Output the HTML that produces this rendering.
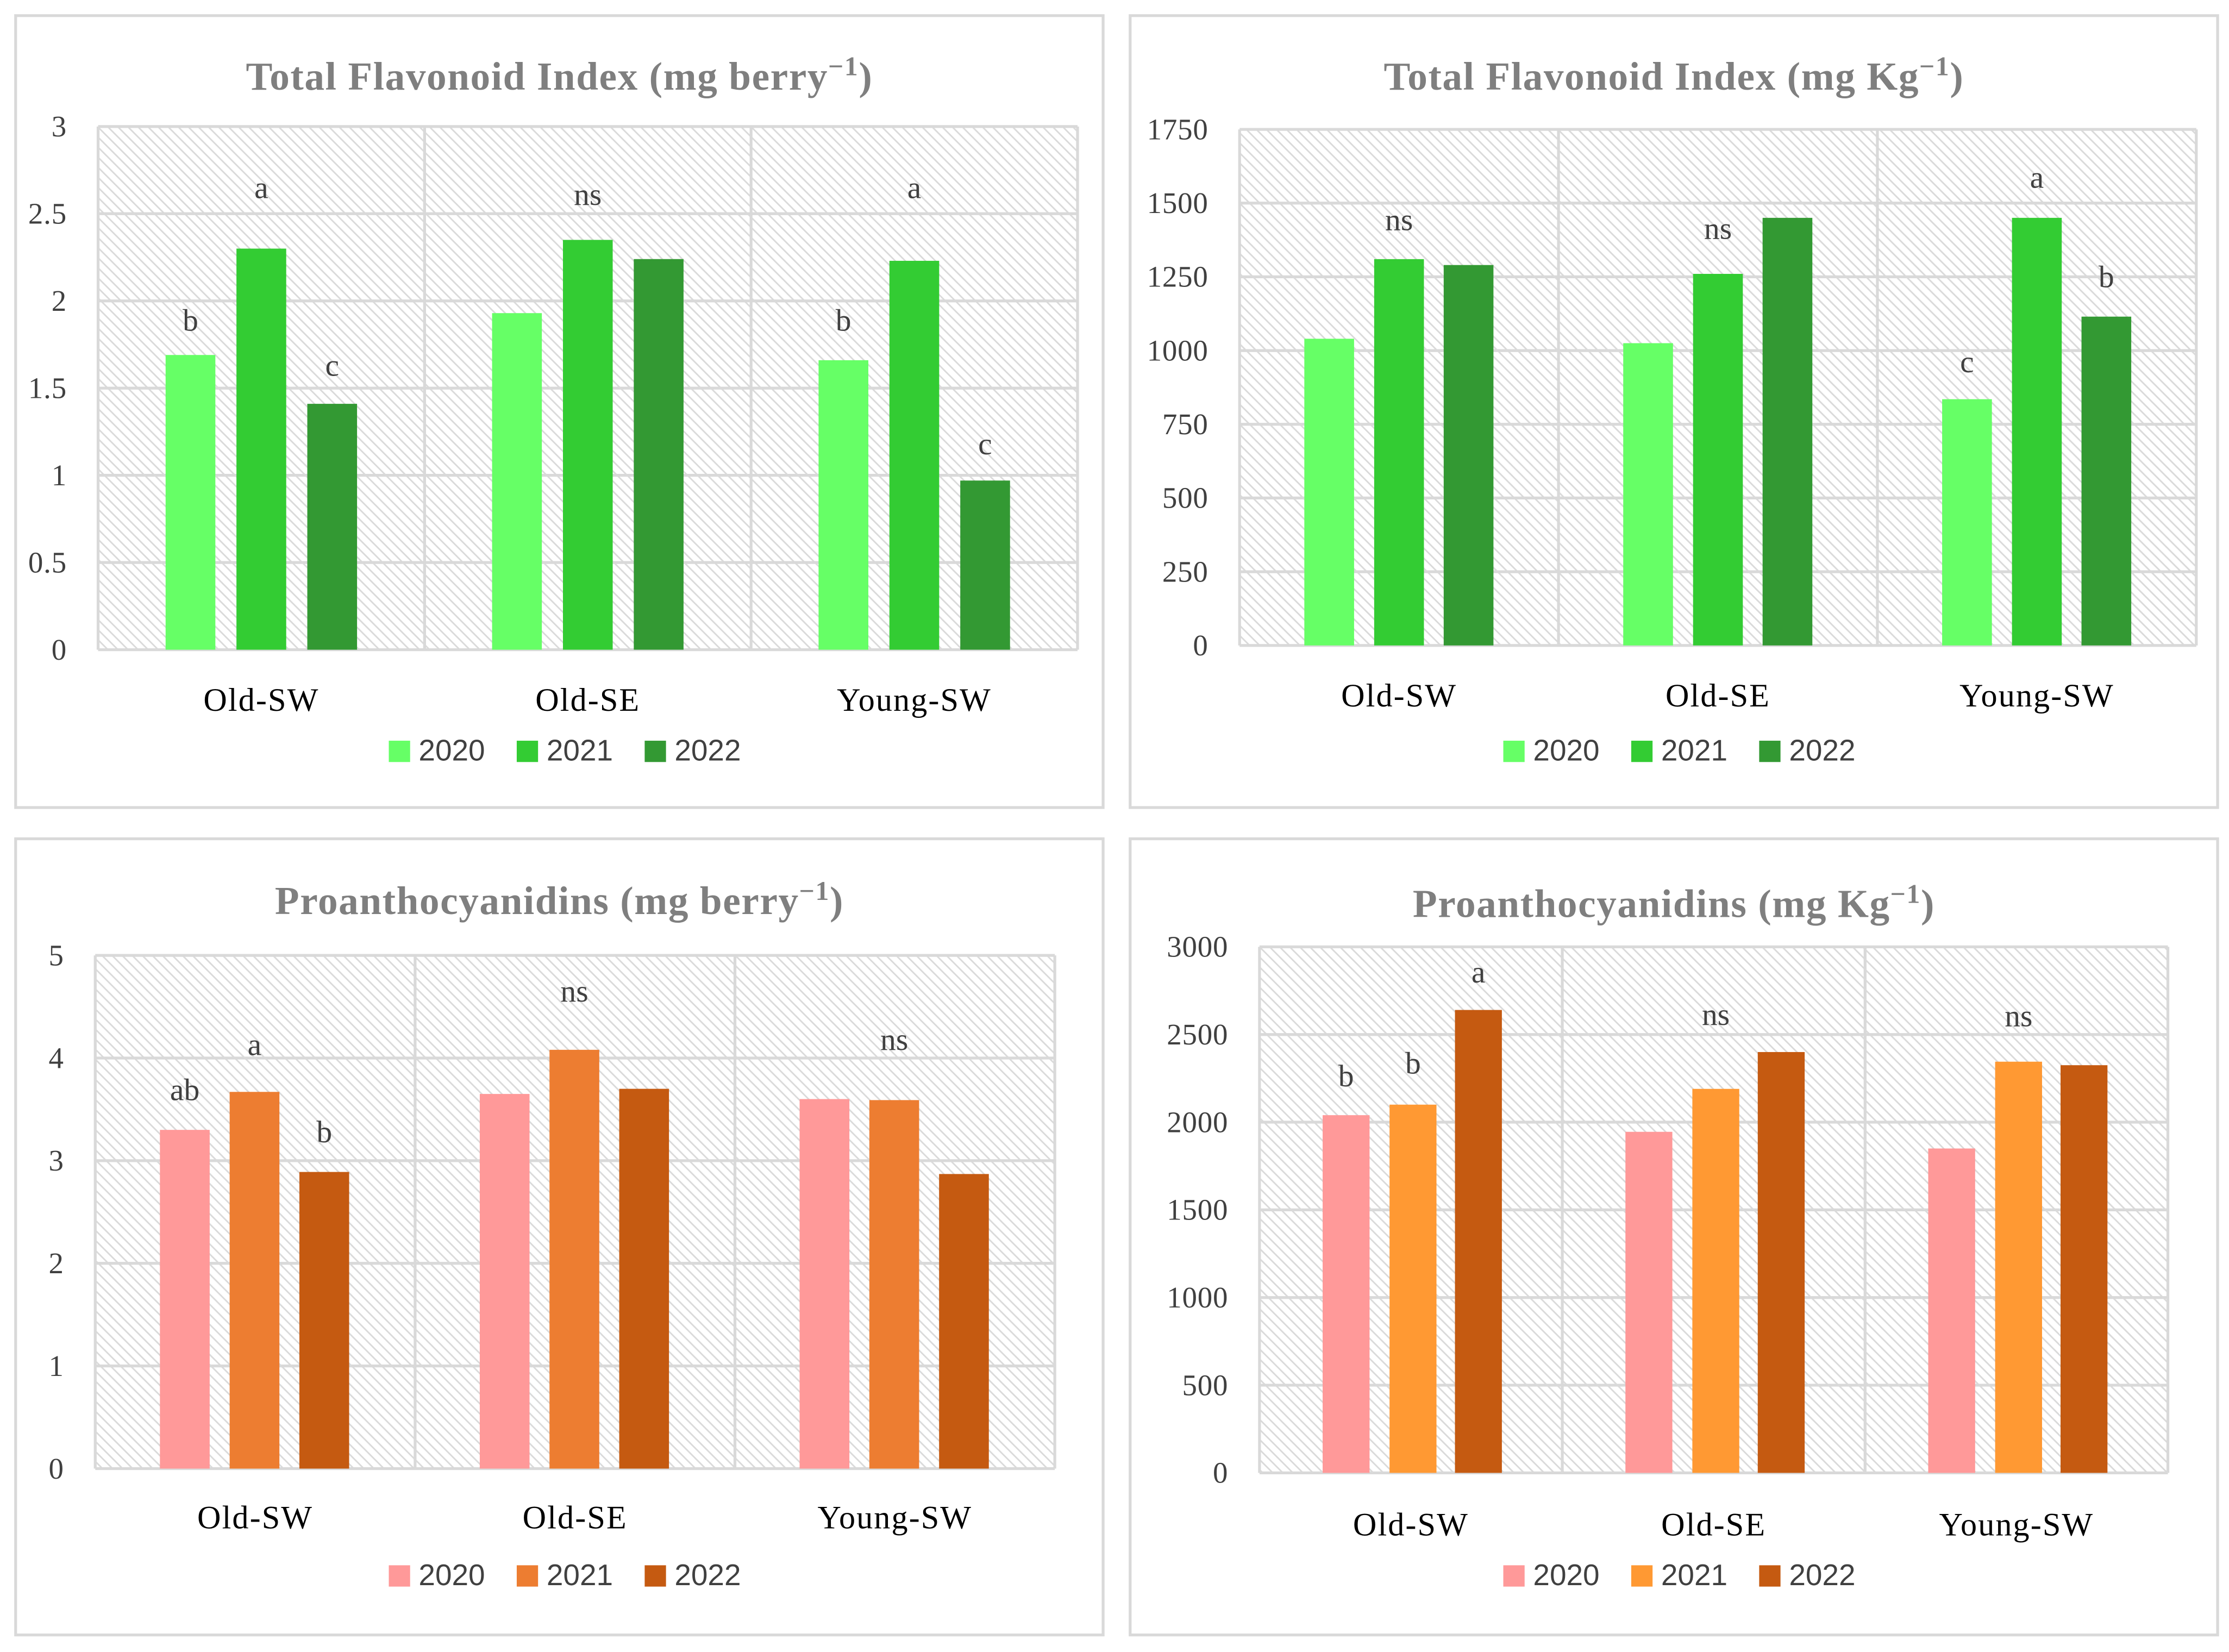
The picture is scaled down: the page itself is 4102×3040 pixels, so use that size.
<!DOCTYPE html>
<html><head><meta charset="utf-8"><style>
html,body{margin:0;padding:0;background:#fff;}
svg{display:block;}
.t{font-family:"Liberation Serif",serif;}
</style></head><body>
<svg id="fig" width="4102" height="3040" viewBox="0 0 1568 1162" preserveAspectRatio="none" xmlns="http://www.w3.org/2000/svg">
<defs>
<pattern id="hatch" patternUnits="userSpaceOnUse" width="5" height="5" patternTransform="rotate(-45)">
<rect width="5" height="5" fill="#ffffff"/>
<line x1="0" y1="0" x2="0" y2="5" stroke="#dadada" stroke-width="2.2"/>
</pattern>
</defs>
<g id="root"></g>
</svg>
<script>
const categories = ["Old-SW","Old-SE","Young-SW"];
const years = ["2020","2021","2022"];
// Panel 1: Total Flavonoid Index (mg berry-1)
const p1Values = [[1.69,1.93,1.66],[2.30,2.35,2.23],[1.41,2.24,0.97]];
const p1Ticks = [0,0.5,1,1.5,2,2.5,3];
const p1TickLabels = ["0","0.5","1","1.5","2","2.5","3"];
const p1Letters = [["b","","b"],["a","ns","a"],["c","","c"]];
const p1LetterY = [[1.83,0,1.83],[2.59,2.55,2.59],[1.57,0,1.12]];
// Panel 2: Total Flavonoid Index (mg Kg-1)
const p2Values = [[1040,1025,835],[1310,1260,1450],[1290,1450,1115]];
const p2Ticks = [0,250,500,750,1000,1250,1500,1750];
const p2TickLabels = ["0","250","500","750","1000","1250","1500","1750"];
const p2Letters = [["","","c"],["ns","ns","a"],["","","b"]];
const p2LetterY = [[0,0,926],[1408,1379,1552],[0,0,1215]];
// Panel 3: Proanthocyanidins (mg berry-1)
const p3Values = [[3.30,3.65,3.60],[3.67,4.08,3.59],[2.89,3.70,2.87]];
const p3Ticks = [0,1,2,3,4,5];
const p3TickLabels = ["0","1","2","3","4","5"];
const p3Letters = [["ab","",""],["a","ns","ns"],["b","",""]];
const p3LetterY = [[3.59,0,0],[4.03,4.55,4.08],[3.18,0,0]];
// Panel 4: Proanthocyanidins (mg Kg-1)
const p4Values = [[2040,1945,1850],[2100,2190,2345],[2640,2400,2325]];
const p4Ticks = [0,500,1000,1500,2000,2500,3000];
const p4TickLabels = ["0","500","1000","1500","2000","2500","3000"];
const p4Letters = [["b","",""],["b","ns","ns"],["a","",""]];
const p4LetterY = [[2205,0,0],[2278,2555,2547],[2797,0,0]];

const NS="http://www.w3.org/2000/svg";
const root=document.getElementById('root');
function mk(tag,attrs,parent,text){
  const e=document.createElementNS(NS,tag);
  for(const k in attrs)e.setAttribute(k,attrs[k]);
  if(text!==undefined)e.textContent=text;
  (parent||root).appendChild(e);return e;
}
function drawPanel(cfg){
  const g=mk('g',{});
  
  
  const fr=mk('rect',{x:cfg.bx,y:cfg.by,width:cfg.bw,height:cfg.bh,fill:'#fff',stroke:'#d9d9d9','stroke-width':2},g);
  
  
  const tt=mk('text',{x:cfg.bx+cfg.bw/2,y:cfg.ty,'text-anchor':'middle',class:'t','font-size':28,'letter-spacing':0.6,'font-weight':'bold',fill:'#7f7f7f'},g);
  
  
  mk('tspan',{},tt,cfg.title);
  mk('tspan',{'font-size':19,dy:-10},tt,'−1');
  mk('tspan',{dy:10},tt,')');
  const {px0,px1,py0,py1}=cfg;
  const maxV=cfg.ticks[cfg.ticks.length-1];
  const yS=v=>py1-(v/maxV)*(py1-py0);
  const bg=mk('rect',{x:px0,y:py0,width:px1-px0,height:py1-py0,fill:'url(#hatch)'},g);
  
  
  cfg.ticks.forEach((t,i)=>{
    const y=yS(t);
    const l=mk('line',{x1:px0,x2:px1,y1:y,y2:y,stroke:'#d9d9d9','stroke-width':2},g);
    
    
    const tl=mk('text',{x:px0-22,y:y+7,'text-anchor':'end',class:'t','font-size':21,'letter-spacing':0.3,fill:'#404040'},g,cfg.tickLabels[i]);
    
    
  });
  const gw=(px1-px0)/categories.length;
  for(let c=0;c<=categories.length;c++){
    const x=px0+c*gw;
    const l=mk('line',{x1:x,x2:x,y1:py0,y2:py1,stroke:'#d9d9d9','stroke-width':2},g);
    
    
  }
  categories.forEach((cat,c)=>{
    const gx=px0+c*gw;
    years.forEach((yr,s)=>{
      const cx=gx+gw*cfg.offs[s];
      const v=cfg.values[s][c];
      const b=mk('rect',{x:cx-cfg.barW/2,y:yS(v),width:cfg.barW,height:py1-yS(v),fill:cfg.colors[s]},g);
      
      
      const lt=cfg.letters[s][c];
      if(lt){
        const t=mk('text',{x:cx,y:yS(cfg.letterY[s][c]),'text-anchor':'middle',class:'t','font-size':22,fill:'#404040'},g,lt);
        
        
      }
    });
    const cl=mk('text',{x:gx+gw/2,y:cfg.cy,'text-anchor':'middle',class:'t','font-size':23,'letter-spacing':0.8,fill:'#000'},g,cat);
    
    
  });
  const lc=cfg.bx+cfg.bw/2;
  years.forEach((yr,s)=>{
    const x=lc-120+s*90;
    const e=mk('g',{},g);
    
    
    mk('rect',{x:x,y:cfg.ly-14,width:15,height:15,fill:cfg.colors[s]},e);
    mk('text',{x:x+21,y:cfg.ly,'font-family':'"Liberation Sans",sans-serif','font-size':21,fill:'#404040'},e,yr);
  });
}
const greens=['#66ff66','#33cc33','#339933'];
drawPanel({name:'chart-tfi-berry',bx:11,by:11,bw:765,bh:557,ty:63,title:'Total Flavonoid Index (mg berry',px0:69,px1:758,py0:89,py1:457,ticks:p1Ticks,tickLabels:p1TickLabels,values:p1Values,letters:p1Letters,letterY:p1LetterY,colors:greens,offs:[0.283,0.5,0.717],barW:35,cy:500,ly:535});
drawPanel({name:'chart-tfi-kg',bx:795,by:11,bw:765,bh:557,ty:63,title:'Total Flavonoid Index (mg Kg',px0:872,px1:1545,py0:91,py1:454,ticks:p2Ticks,tickLabels:p2TickLabels,values:p2Values,letters:p2Letters,letterY:p2LetterY,colors:greens,offs:[0.281,0.5,0.718],barW:35,cy:497,ly:535});
drawPanel({name:'chart-pa-berry',bx:11,by:590,bw:765,bh:560,ty:643,title:'Proanthocyanidins (mg berry',px0:67,px1:742,py0:672,py1:1033,ticks:p3Ticks,tickLabels:p3TickLabels,values:p3Values,letters:p3Letters,letterY:p3LetterY,colors:['#ff9999','#ed7d31','#c55a11'],offs:[0.28,0.498,0.716],barW:35,cy:1075,ly:1115});
drawPanel({name:'chart-pa-kg',bx:795,by:590,bw:765,bh:560,ty:645,title:'Proanthocyanidins (mg Kg',px0:886,px1:1525,py0:666,py1:1036,ticks:p4Ticks,tickLabels:p4TickLabels,values:p4Values,letters:p4Letters,letterY:p4LetterY,colors:['#ff9999','#ff9933','#c55a11'],offs:[0.286,0.507,0.723],barW:33,cy:1080,ly:1115});
</script>
</body></html>
